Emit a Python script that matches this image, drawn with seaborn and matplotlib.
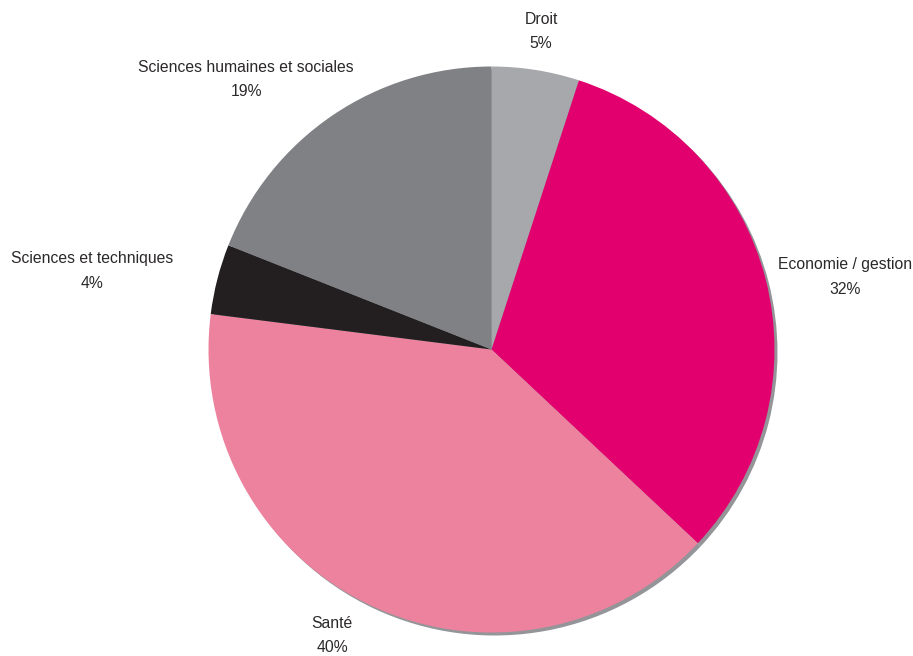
import matplotlib
matplotlib.use("Agg")
import matplotlib.pyplot as plt
import seaborn as sns
import numpy as np

categories = ["Droit", "Economie / gestion", "Santé",
              "Sciences et techniques", "Sciences humaines et sociales"]
shares = [5, 32, 40, 4, 19]
colors = ["#a7a8ac", "#e2006f", "#ec829e", "#231f20", "#808184"]

# label centres in pixel space (y measured upward)
label_pos = [(541, 624), (845, 379), (332, 20), (92, 385), (246, 577)]

sns.set_theme(style="white")
plt.rcParams["font.family"] = ["Liberation Sans", "DejaVu Sans"]

fig = plt.figure(figsize=(9.13, 6.56), dpi=100)
ax = fig.add_axes([0, 0, 1, 1])

cx, cy, r = 491.5, 306.5, 283

# drop shadow
ax.pie(shares, colors=["#939598"] * len(shares), startangle=90, counterclock=False,
       center=(cx + 3, cy - 3), radius=r, frame=True,
       wedgeprops=dict(linewidth=0))
ax.pie(shares, colors=colors, startangle=90, counterclock=False,
       center=(cx, cy), radius=r, frame=True,
       wedgeprops=dict(linewidth=0))
ax.set_xlim(0, 913)
ax.set_ylim(0, 656)
ax.axis("off")

for name, val, (x, y) in zip(categories, shares, label_pos):
    ax.text(x, y, f"{name}\n{val}%", ha="center", va="center",
            fontsize=11.3, color="#2b2829", linespacing=1.75)

fig.savefig("out.png", dpi=100, facecolor="white")
